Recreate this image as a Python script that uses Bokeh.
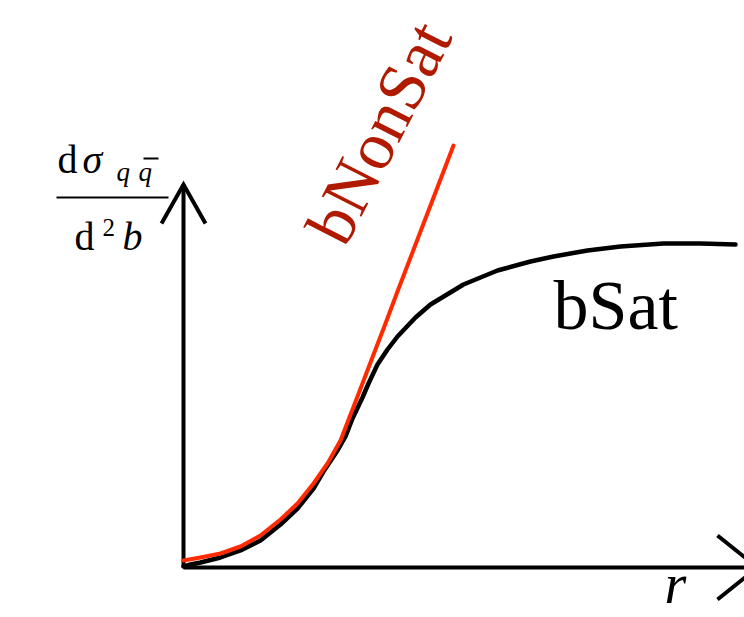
import math
from bokeh.plotting import figure
from bokeh.models import Range1d
from bokeh.core.properties import value
from bokeh.embed import file_html
from bokeh.resources import INLINE

# ---- data (r, value); origin at the axes crossing ----
sat_r = [0, 7, 17, 37, 57, 77, 97, 114, 130, 140, 154, 162, 169, 179, 185, 194, 204, 214,
         232, 247, 280, 314, 347, 370, 404, 437, 480, 517, 552]
sat_v = [1, 3, 5, 10, 17, 27, 43, 59, 79, 96, 117, 131, 149, 170, 184, 203, 218, 231,
         250, 263, 283, 297, 306, 311, 317, 321, 324, 324, 323]

nonsat_r = [0, 17, 37, 57, 77, 97, 114, 130, 144, 157, 174, 187, 202, 214, 237, 270]
nonsat_v = [7, 10, 14, 21, 32, 48, 64, 84, 104, 127, 171, 205, 244, 276, 336, 422]

sat_label = "bSat"
nonsat_label = "bNonSat"
x_label = "r"

W, H = 744, 617
OX, OY = 183, 567  # pixel position of the origin
BASE = 0.36        # baseline correction of the svg text, in em


def X(px):
    return px - OX


def Y(py):
    return OY - py


p = figure(width=W, height=H, output_backend="svg", toolbar_location=None,
           x_range=Range1d(X(0), X(W)), y_range=Range1d(Y(H), Y(0)),
           min_border=0)
p.axis.visible = False
p.grid.visible = False
p.outline_line_color = None
p.background_fill_color = "white"

serif = value("Liberation Serif")


def label(px, py, txt, size, color="black", italic=False, angle=0.0):
    d = BASE * size
    a = math.radians(angle)
    px2 = px - d * math.sin(a)
    py2 = py - d * math.cos(a)
    p.text([X(px2)], [Y(py2)], text=[txt], text_font=serif, text_font_size=f"{size}px",
           text_font_style="italic" if italic else "normal", text_color=color,
           text_align="left", text_baseline="alphabetic", angle=angle, angle_units="deg")


# axes
p.line([X(OX), X(OX)], [Y(OY), Y(184)], line_color="black", line_width=4)
p.line([X(161), X(OX), X(205)], [Y(223), Y(184), Y(223)], line_color="black",
       line_width=4, line_join="miter")
p.line([X(OX), X(757)], [Y(OY), Y(OY)], line_color="black", line_width=4)
p.line([X(717), X(757), X(717)], [Y(535), Y(OY), Y(599)], line_color="black",
       line_width=4, line_join="miter")

# curves
p.line(sat_r, sat_v, line_color="black", line_width=4.5, line_cap="round", line_join="round")
p.line(nonsat_r, nonsat_v, line_color="#ff2a00", line_width=4, line_cap="round",
       line_join="round")

# labels
label(553, 330, sat_label, 70)
label(346, 249, nonsat_label, 68, color="#b01a00", angle=63)
label(664, 604, x_label, 56, italic=True)

# y label: d sigma_{q qbar} / d^2 b
label(57, 173, "d", 40)
label(82, 173, "σ", 40, italic=True)
label(116, 181, "q", 27, italic=True)
label(138, 181, "q", 27, italic=True)
p.line([X(143), X(158)], [Y(158), Y(158)], line_color="black", line_width=2)
p.line([X(56), X(168)], [Y(197), Y(197)], line_color="black", line_width=2)
label(74, 250, "d", 40)
label(102, 236, "2", 25)
label(122, 250, "b", 40, italic=True)

open("out.html", "w").write(file_html(p, INLINE))
